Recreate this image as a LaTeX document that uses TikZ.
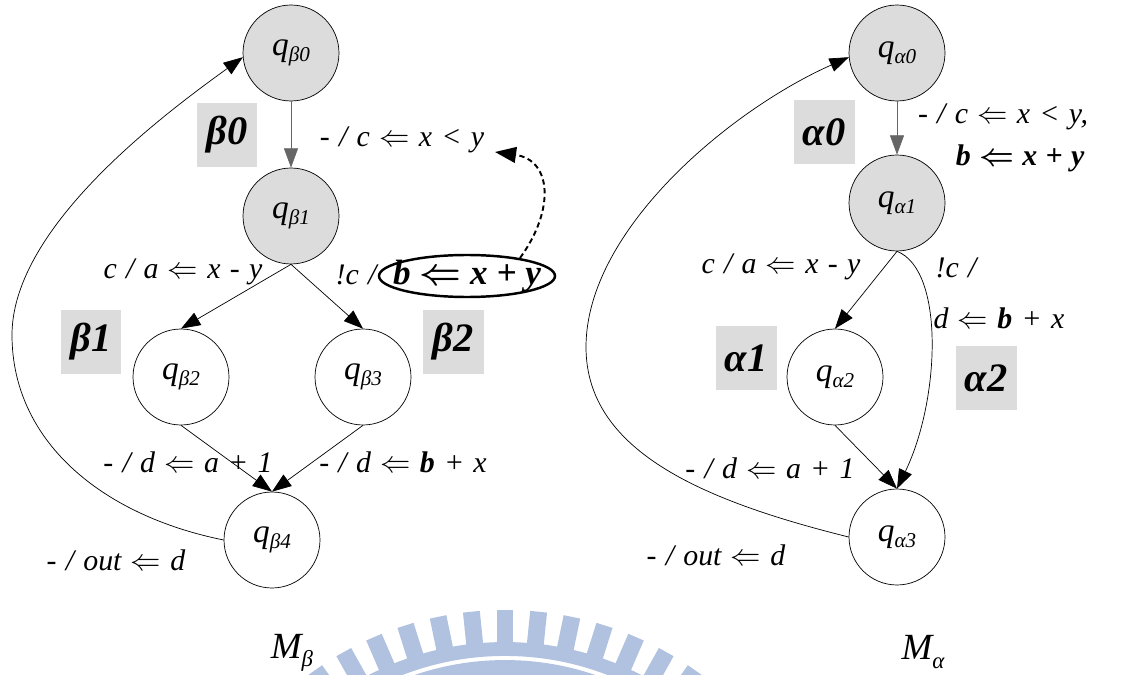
\documentclass[tikz,border=0pt]{standalone}
\usepackage{fontspec}
\setmainfont{Liberation Serif}
\usetikzlibrary{arrows.meta}

\definecolor{stategray}{RGB}{220,220,220}
\definecolor{markblue}{RGB}{176,194,224}

\newcommand\assign{$\Leftarrow$}
\newcommand\bassign{{\boldmath$\Leftarrow$}}
\newcommand\qs[1]{q\raisebox{-0.4ex}{\fontsize{12}{13}\selectfont #1}}
\newcommand\widesp[1]{\spaceskip=#1em\relax}

\tikzset{
	state/.style = {circle, draw, minimum size=1.92cm, inner sep=0pt, font=\fontsize{19}{21}\selectfont\itshape},
	initstate/.style = {state, fill=stategray},
	tag/.style = {fill=stategray, minimum width=1.22cm, minimum height=1.3cm, inner sep=0pt, font=\fontsize{23}{25}\selectfont\bfseries\itshape},
	act/.style = {inner sep=0pt, font=\fontsize{17}{19}\selectfont\itshape\widesp{0.31}},
	bact/.style = {act, font=\fontsize{17}{19}\selectfont\bfseries\itshape\widesp{0.28}},
	tr/.style = {-{Triangle[length=11pt, width=8pt]}},
}

\begin{document}
\begin{tikzpicture}[x=0.02cm, y=-0.02cm]
		\useasboundingbox (0,0) rectangle (1145,675);

		% seal in the lower margin
		\begin{scope}
			\clip (0,0) rectangle (1145,675);
			\coordinate (wm) at (505,940);
			\foreach \k in {-8,...,8}
				\draw[markblue, line width=9.6pt] (wm) ++({-90+5.85*\k}:296) -- ++({-90+5.85*\k}:34);
			\draw[markblue, line width=7.9pt] (wm) circle [radius=291];
			\draw[markblue, line width=17pt] (wm) circle [radius=265];
		\end{scope}

		% M_beta
		\node[initstate] (b0) at (291,53) {\qs{β0}};
		\node[initstate] (b1) at (291,216) {\qs{β1}};
		\node[state] (b2) at (181,377) {\qs{β2}};
		\node[state] (b3) at (363,377) {\qs{β3}};
		\node[state] (b4) at (272,540) {\qs{β4}};

		\node[tag] (tb0) at (227,135) {β0};
		\node[tag] (tb1) at (91,342) {β1};
		\node[tag] (tb2) at (453,342) {β2};

		\draw[tr, draw=black!60] (b0) -- (b1);
		\draw[tr] (b1.south) -- (b2.north);
		\draw[tr] (b1.south) -- (b3.north);
		\draw[tr] (b2.south) -- (b4.north);
		\draw[tr] (b3.south) -- (b4.north);
		\draw[tr] (b4.west) .. controls (100,515) and (12,440) .. (12,335)
			.. controls (12,225) and (170,110) .. (b0.185);

		\node[act] (lb0) at (402,140) {- / c \assign{} x < y};
		\node[act] (lb1) at (183,272) {c / a \assign{} x - y};
		\node[act] (lb2) at (356,275) {!c /};
		\node[bact, font=\fontsize{20}{22}\selectfont\bfseries\itshape] (bxy) at (467,276) {b \bassign{} x + y};
		\draw[line width=1.4pt] (bxy.center) ellipse [x radius=88, y radius=21];
		\node[act] (lb3) at (188,462) {- / d \assign{} a + 1};
		\node[act] (lb4) at (403,462) {- / d \assign{} \textbf{b} + x};
		\node[act] (lb5) at (116,560) {- / out \assign{} d};

		\coordinate (bxytop) at (520,258);
		\coordinate (ctip) at (495,152);
		\draw[densely dashed, line width=1.1pt, -{Triangle[length=12pt, width=9pt]}]
			(bxytop) .. controls (555,210) and (552,160) .. (ctip);

		% M_alpha
		\node[initstate] (a0) at (897,53) {\qs{α0}};
		\node[initstate] (a1) at (897,203) {\qs{α1}};
		\node[state] (a2) at (835,377) {\qs{α2}};
		\node[state] (a3) at (897,537) {\qs{α3}};

		\node[tag] (ta0) at (824,132) {α0};
		\node[tag] (ta1) at (746,358) {α1};
		\node[tag] (ta2) at (986,378) {α2};

		\draw[tr, draw=black!60] (a0) -- (a1);
		\draw[tr] (a1.south) -- (a2.north);
		\draw[tr] (a1.south) .. controls (945,270) and (940,400) .. (a3.north);
		\draw[tr] (a2.south) -- (a3.north);
		\draw[tr] (a3.west) .. controls (700,500) and (586,450) .. (586,347)
			.. controls (586,230) and (730,110) .. (a0.185);

		\node[act] (la0) at (1003,117) {- / c \assign{} x < y,};
		\node[bact] (la0b) at (1020,158) {b \bassign{} x + y};
		\node[act] (la1) at (781,267) {c / a \assign{} x - y};
		\node[act] (la2) at (956,268) {!c /};
		\node[act] (la3) at (999,318) {d \assign{} \textbf{b} + x};
		\node[act] (la4) at (770,468) {- / d \assign{} a + 1};
		\node[act] (la5) at (716,555) {- / out \assign{} d};

		\node[font=\fontsize{21}{23}\selectfont\itshape] (mb) at (292,653) {M\raisebox{-0.5ex}{\fontsize{13}{14}\selectfont β}};
		\node[font=\fontsize{21}{23}\selectfont\itshape] (ma) at (923,652) {M\raisebox{-0.5ex}{\fontsize{13}{14}\selectfont α}};
	\end{tikzpicture}
\end{document}
